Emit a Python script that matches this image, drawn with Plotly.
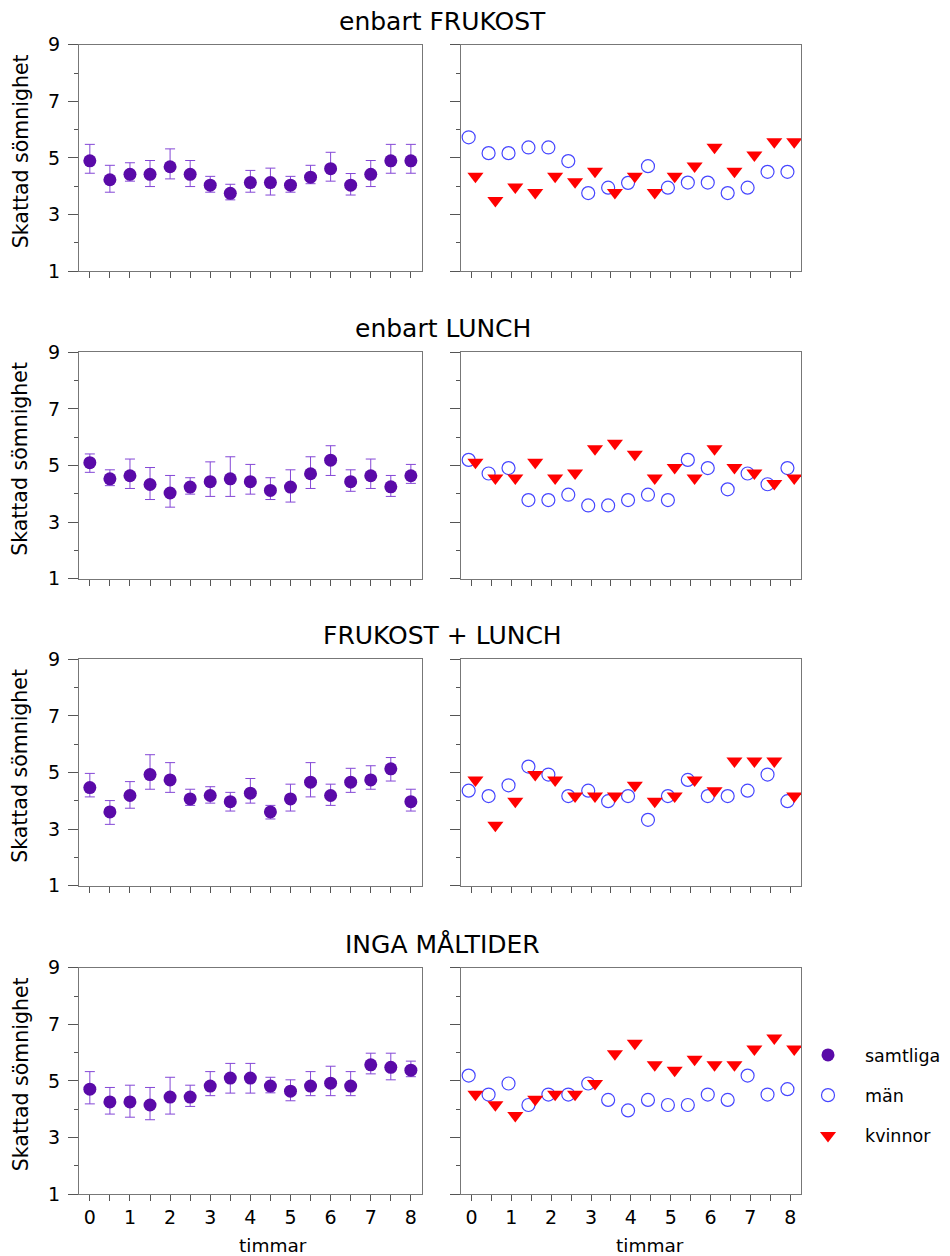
import plotly.graph_objects as go

# ---------------- data ----------------
HOURS = [0, 0.5, 1, 1.5, 2, 2.5, 3, 3.5, 4, 4.5, 5, 5.5, 6, 6.5, 7, 7.5, 8]
HOUR_LABELS = ["0", "", "1", "", "2", "", "3", "", "4", "", "5", "", "6", "", "7", "", "8"]
PANEL_TITLES = ["enbart FRUKOST", "enbart LUNCH", "FRUKOST + LUNCH", "INGA MÅLTIDER"]
Y_TICKS = [1, 3, 5, 7, 9]
Y_MINOR = [2, 4, 6, 8]

# enbart FRUKOST
frukost_all = [4.90, 4.23, 4.42, 4.42, 4.69, 4.42, 4.04, 3.75, 4.13, 4.13, 4.04, 4.32, 4.62, 4.04, 4.42, 4.90, 4.90]
frukost_hi = [5.48, 4.74, 4.83, 4.91, 5.32, 4.91, 4.35, 4.07, 4.56, 4.64, 4.35, 4.74, 5.20, 4.45, 4.91, 5.48, 5.48]
frukost_lo = [4.46, 3.79, 4.18, 3.99, 4.26, 3.99, 3.79, 3.52, 3.79, 3.69, 3.79, 4.09, 4.18, 3.69, 3.99, 4.46, 4.46]
frukost_man = [5.73, 5.17, 5.17, 5.37, 5.37, 4.89, 3.76, 3.95, 4.12, 4.71, 3.95, 4.13, 4.13, 3.76, 3.95, 4.51, 4.51]
frukost_kv = [4.35, 3.50, 3.97, 3.78, 4.35, 4.16, 4.53, 3.78, 4.35, 3.78, 4.35, 4.72, 5.38, 4.53, 5.10, 5.57, 5.57]

# enbart LUNCH
lunch_all = [5.10, 4.53, 4.64, 4.33, 4.03, 4.24, 4.43, 4.53, 4.43, 4.12, 4.24, 4.71, 5.19, 4.43, 4.64, 4.25, 4.64]
lunch_hi = [5.41, 4.85, 5.23, 4.93, 4.65, 4.57, 5.13, 5.31, 5.04, 4.57, 4.85, 5.31, 5.70, 4.85, 5.23, 4.65, 5.04]
lunch_lo = [4.76, 4.29, 4.19, 3.80, 3.53, 3.99, 3.91, 3.91, 3.99, 3.80, 3.71, 4.19, 4.65, 4.09, 4.19, 3.91, 4.37]
lunch_man = [5.20, 4.72, 4.91, 3.78, 3.78, 3.97, 3.59, 3.59, 3.78, 3.97, 3.78, 5.20, 4.91, 4.16, 4.72, 4.34, 4.91]
lunch_kv = [5.12, 4.56, 4.56, 5.12, 4.56, 4.74, 5.59, 5.79, 5.40, 4.56, 4.93, 4.56, 5.59, 4.93, 4.74, 4.37, 4.56]

# FRUKOST + LUNCH
fl_all = [4.47, 3.61, 4.19, 4.93, 4.74, 4.07, 4.19, 3.97, 4.27, 3.61, 4.07, 4.66, 4.19, 4.66, 4.74, 5.13, 3.97]
fl_hi = [4.97, 4.01, 4.68, 5.63, 5.35, 4.41, 4.50, 4.30, 4.79, 3.84, 4.59, 5.35, 4.59, 5.15, 5.24, 5.53, 4.41]
fl_lo = [4.14, 3.17, 3.74, 4.41, 4.30, 3.84, 3.92, 3.64, 3.92, 3.36, 3.64, 4.14, 3.84, 4.30, 4.41, 4.70, 3.64]
fl_man = [4.36, 4.17, 4.55, 5.21, 4.93, 4.17, 4.36, 3.99, 4.17, 3.33, 4.17, 4.74, 4.17, 4.17, 4.36, 4.93, 3.99]
fl_kv = [4.74, 3.14, 3.99, 4.93, 4.74, 4.17, 4.17, 4.17, 4.55, 3.99, 4.17, 4.74, 4.36, 5.41, 5.41, 5.41, 4.17]

# INGA MÅLTIDER
inga_all = [4.71, 4.26, 4.26, 4.15, 4.43, 4.43, 4.82, 5.10, 5.10, 4.82, 4.64, 4.82, 4.92, 4.82, 5.57, 5.48, 5.38]
inga_hi = [5.33, 4.77, 4.85, 4.77, 5.13, 4.85, 5.33, 5.62, 5.62, 5.13, 5.04, 5.33, 5.52, 5.33, 5.98, 5.98, 5.70]
inga_lo = [4.19, 3.83, 3.72, 3.63, 3.83, 4.10, 4.48, 4.57, 4.57, 4.58, 4.30, 4.48, 4.48, 4.48, 5.25, 5.04, 5.15]
inga_man = [5.19, 4.52, 4.91, 4.15, 4.52, 4.52, 4.91, 4.33, 3.96, 4.33, 4.15, 4.15, 4.52, 4.33, 5.19, 4.52, 4.71]
inga_kv = [4.53, 4.16, 3.78, 4.35, 4.53, 4.53, 4.91, 5.96, 6.33, 5.57, 5.38, 5.77, 5.57, 5.57, 6.13, 6.52, 6.13]

ROWS = [
    (frukost_all, frukost_hi, frukost_lo, frukost_man, frukost_kv),
    (lunch_all, lunch_hi, lunch_lo, lunch_man, lunch_kv),
    (fl_all, fl_hi, fl_lo, fl_man, fl_kv),
    (inga_all, inga_hi, inga_lo, inga_man, inga_kv),
]

# ---------------- layout geometry (page pixels) ----------------
W, H = 950, 1256
OFF = 8  # page body margin around the figure div
FONT = "DejaVu Sans"
ROW_TOP = [44.7, 352.3, 659.3, 967.7]
ROW_H = 226.5
LEFT_X = (79, 421.7)
RIGHT_X = (460.7, 801)
MAN_SHIFT = -0.07
KV_SHIFT = 0.10

PURPLE = "#5a0aa8"
ERR = "#8447d6"
BLUE = "#4646ff"
RED = "#ff0000"
LINE = "#777777"


def fx(px):
    return (px - OFF) / W


def fy(py):
    return 1 - (py - OFF) / H


fig = go.Figure()
layout = dict(
    width=W, height=H,
    margin=dict(l=0, r=0, t=0, b=0, pad=0, autoexpand=False),
    paper_bgcolor="white", plot_bgcolor="white",
    font=dict(family=FONT, size=19, color="black"),
    showlegend=True,
    legend=dict(
        x=fx(791), y=fy(1037), xanchor="left", yanchor="top",
        font=dict(family=FONT, size=17.5, color="black"),
        tracegroupgap=14.5, itemwidth=64, bgcolor="rgba(0,0,0,0)",
    ),
)

annotations = []

for r, (allv, hi, lo, man, kv) in enumerate(ROWS):
    last = r == 3
    top = ROW_TOP[r]
    for c in range(2):
        idx = r * 2 + c + 1
        xa = "x" if idx == 1 else f"x{idx}"
        ya = "y" if idx == 1 else f"y{idx}"
        xd = LEFT_X if c == 0 else RIGHT_X
        layout["xaxis" if idx == 1 else f"xaxis{idx}"] = dict(
            domain=[fx(xd[0]), fx(xd[1])], anchor=ya, automargin=False,
            range=[-0.27, 8.27], tickmode="array", tickvals=HOURS, ticktext=HOUR_LABELS,
            showticklabels=last, ticks="outside", ticklen=6, tickwidth=1, tickcolor="#555",
            showline=True, linecolor=LINE, linewidth=1, mirror=True,
            showgrid=False, zeroline=False,
            tickfont=dict(family=FONT, size=19, color="black"),
        )
        layout["yaxis" if idx == 1 else f"yaxis{idx}"] = dict(
            domain=[fy(top + ROW_H), fy(top)], anchor=xa, automargin=False,
            range=[1, 9], tickmode="array", tickvals=Y_TICKS,
            showticklabels=(c == 0), ticks="outside", ticklen=10, tickwidth=1, tickcolor="#555",
            minor=dict(tickmode="array", tickvals=Y_MINOR, ticks="outside", ticklen=4,
                       tickcolor="#555", showgrid=False),
            showline=True, linecolor=LINE, linewidth=1, mirror=True,
            showgrid=False, zeroline=False, ticklabelstandoff=4,
            tickfont=dict(family=FONT, size=19, color="black"),
        )
        if c == 0:
            fig.add_trace(go.Scatter(
                x=HOURS, y=allv, mode="markers", xaxis=xa, yaxis=ya,
                name="samtliga", legendgroup="samtliga", showlegend=last,
                marker=dict(symbol="circle", size=13, color=PURPLE),
                error_y=dict(type="data", symmetric=False,
                             array=[h - m for h, m in zip(hi, allv)],
                             arrayminus=[m - l for m, l in zip(allv, lo)],
                             color=ERR, thickness=1, width=5),
            ))
        else:
            fig.add_trace(go.Scatter(
                x=[h + MAN_SHIFT for h in HOURS], y=man, mode="markers", xaxis=xa, yaxis=ya,
                name="män", legendgroup="man", showlegend=last,
                marker=dict(symbol="circle-open", size=13, color=BLUE, line=dict(width=1.2, color=BLUE)),
            ))
            fig.add_trace(go.Scatter(
                x=[h + KV_SHIFT for h in HOURS], y=kv, mode="markers", xaxis=xa, yaxis=ya,
                name="kvinnor", legendgroup="kvinnor", showlegend=last,
                marker=dict(symbol="triangle-down", size=14, color=RED),
            ))
    # row title
    annotations.append(dict(
        text=PANEL_TITLES[r], x=fx(442.5), y=fy(top - 23.5),
        xref="paper", yref="paper", xanchor="center", yanchor="middle",
        showarrow=False, font=dict(family=FONT, size=25, color="black"),
    ))
    # y axis title
    annotations.append(dict(
        text="Skattad sömnighet", x=fx(20.5), y=fy(top + 107),
        xref="paper", yref="paper", xanchor="center", yanchor="middle", textangle=-90,
        showarrow=False, font=dict(family=FONT, size=20.5, color="black"),
    ))

for xc in (273, 650):
    annotations.append(dict(
        text="timmar", x=fx(xc), y=fy(1245),
        xref="paper", yref="paper", xanchor="center", yanchor="middle",
        showarrow=False, font=dict(family=FONT, size=18.5, color="black"),
    ))

layout["annotations"] = annotations
fig.update_layout(**layout)
fig.write_html("out.html")
